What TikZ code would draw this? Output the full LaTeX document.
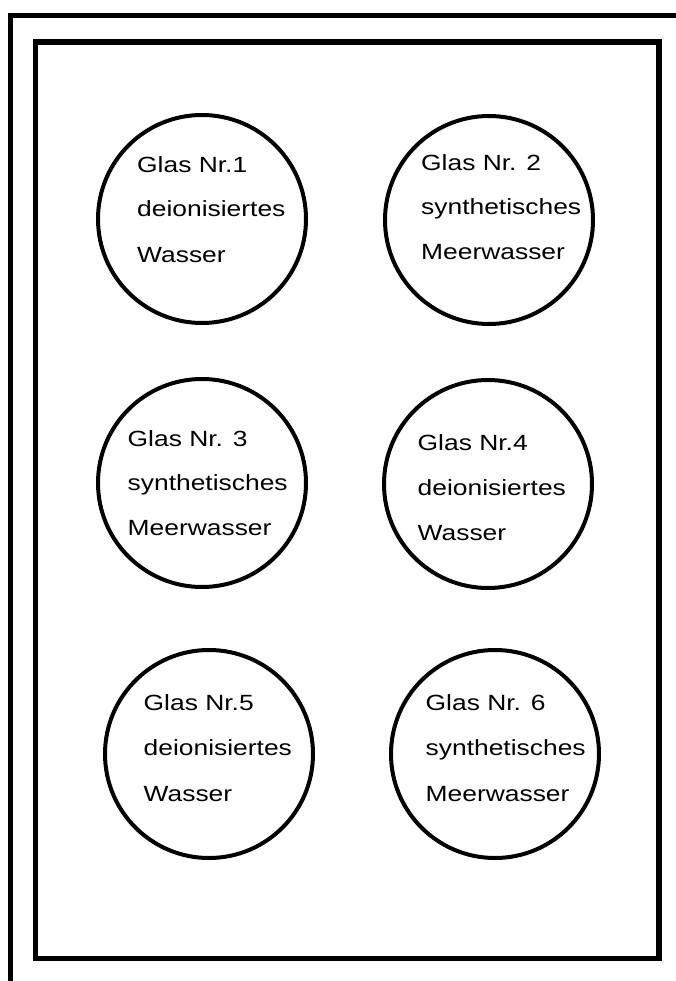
\documentclass[tikz,border=0pt]{standalone}
\usepackage{fontspec}
\setmainfont{Liberation Sans}
\newfontfamily\glasfont[FakeStretch=1.2]{Liberation Sans}
\begin{document}
\begin{tikzpicture}[x=1pt,y=-1pt,
  frameline/.style={line width=5pt},
  innerframe/.style={line width=5.5pt, line join=miter},
  glas/.style={draw, circle, line width=4pt, minimum size=208pt, inner sep=0pt},
  lbl/.style={anchor=base west, inner sep=0pt, font=\glasfont\fontsize{22}{26}\selectfont}]
\useasboundingbox[fill=white] (0,0) rectangle (676,981);
% outer frame (only left and top sides visible)
\coordinate (oBL) at (10.8,981);
\coordinate (oTL) at (10.8,15.8);
\coordinate (oTR) at (676,15.8);
\draw[frameline] (oBL) -- (oTL) -- (oTR);
% inner frame
\coordinate (iTL) at (35.3,41.8);
\coordinate (iBR) at (659,958.5);
\draw[innerframe] (iTL) rectangle (iBR);
% glasses
\node[glas] (g1) at (202,219) {};
\node[glas] (g2) at (489,220) {};
\node[glas] (g3) at (202,483) {};
\node[glas] (g4) at (488,484) {};
\node[glas] (g5) at (209,754) {};
\node[glas] (g6) at (495,754) {};
% labels
\node[lbl] (t1a) at (137,173) {Glas Nr.1};
\node[lbl] (t1b) at (137,217) {deionisiertes};
\node[lbl] (t1c) at (137,262) {Wasser};
\node[lbl] (t2a) at (421,171) {Glas Nr. 2};
\node[lbl] (t2b) at (421,215) {synthetisches};
\node[lbl] (t2c) at (421,260) {Meerwasser};
\node[lbl] (t3a) at (127.5,446) {Glas Nr. 3};
\node[lbl] (t3b) at (127.5,490) {synthetisches};
\node[lbl] (t3c) at (127.5,535) {Meerwasser};
\node[lbl] (t4a) at (417.5,450) {Glas Nr.4};
\node[lbl] (t4b) at (417.5,495) {deionisiertes};
\node[lbl] (t4c) at (417.5,540) {Wasser};
\node[lbl] (t5a) at (143.5,710) {Glas Nr.5};
\node[lbl] (t5b) at (143.5,755) {deionisiertes};
\node[lbl] (t5c) at (143.5,801) {Wasser};
\node[lbl] (t6a) at (425.5,710) {Glas Nr. 6};
\node[lbl] (t6b) at (425.5,755) {synthetisches};
\node[lbl] (t6c) at (425.5,801) {Meerwasser};
\end{tikzpicture}
\end{document}
